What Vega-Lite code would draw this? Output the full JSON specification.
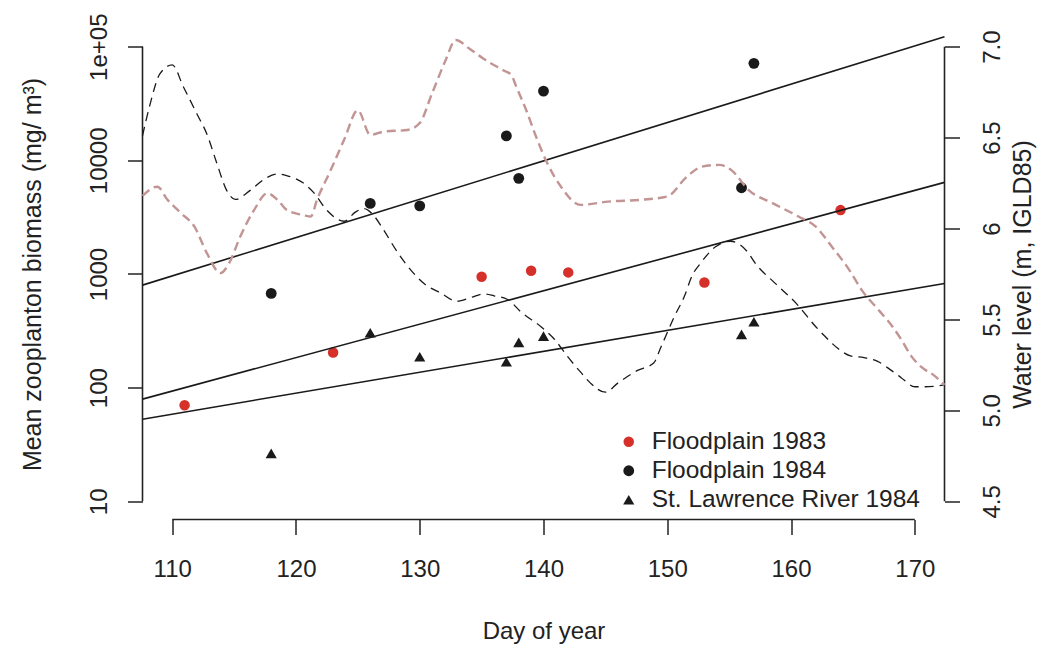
{
  "$schema": "https://vega.github.io/schema/vega-lite/v6.json",
  "width": 802,
  "height": 491,
  "autosize": {"type": "none"},
  "padding": {"left": 142.5, "top": 28.5, "right": 93.5, "bottom": 126.5},
  "background": "white",
  "config": {
    "font": "Liberation Sans",
    "view": {"stroke": null},
    "axis": {
      "grid": false,
      "domain": false,
      "labelFont": "Liberation Sans",
      "titleFont": "Liberation Sans",
      "labelColor": "#222222",
      "titleColor": "#222222",
      "tickColor": "#222222",
      "tickWidth": 1.5,
      "tickSize": 15,
      "labelFontSize": 24,
      "titleFontWeight": "normal",
      "labelFlush": false,
      "labelOverlap": false,
      "labelBound": false
    },
    "legend": {"labelFont": "Liberation Sans"}
  },
  "datasets": {
    "samples": [
      {"group": "Floodplain 1983", "day": 111, "biomass": 70},
      {"group": "Floodplain 1983", "day": 123, "biomass": 204},
      {"group": "Floodplain 1983", "day": 135, "biomass": 945},
      {"group": "Floodplain 1983", "day": 139, "biomass": 1067},
      {"group": "Floodplain 1983", "day": 142, "biomass": 1033},
      {"group": "Floodplain 1983", "day": 153, "biomass": 843},
      {"group": "Floodplain 1983", "day": 164, "biomass": 3650},
      {"group": "Floodplain 1984", "day": 118, "biomass": 675},
      {"group": "Floodplain 1984", "day": 126, "biomass": 4180},
      {"group": "Floodplain 1984", "day": 130, "biomass": 3980},
      {"group": "Floodplain 1984", "day": 137, "biomass": 16400},
      {"group": "Floodplain 1984", "day": 138, "biomass": 6940},
      {"group": "Floodplain 1984", "day": 140, "biomass": 40700},
      {"group": "Floodplain 1984", "day": 156, "biomass": 5740},
      {"group": "Floodplain 1984", "day": 157, "biomass": 71400},
      {"group": "St. Lawrence River 1984", "day": 118, "biomass": 26.4},
      {"group": "St. Lawrence River 1984", "day": 126, "biomass": 304},
      {"group": "St. Lawrence River 1984", "day": 130, "biomass": 187},
      {"group": "St. Lawrence River 1984", "day": 137, "biomass": 169},
      {"group": "St. Lawrence River 1984", "day": 138, "biomass": 250},
      {"group": "St. Lawrence River 1984", "day": 140, "biomass": 284},
      {"group": "St. Lawrence River 1984", "day": 156, "biomass": 294},
      {"group": "St. Lawrence River 1984", "day": 157, "biomass": 380}
    ],
    "fits": [
      {"group": "Floodplain 1984", "day": 107.6, "biomass": 798},
      {"group": "Floodplain 1984", "day": 172.4, "biomass": 122500},
      {"group": "Floodplain 1983", "day": 107.6, "biomass": 79.3},
      {"group": "Floodplain 1983", "day": 172.4, "biomass": 6400},
      {"group": "St. Lawrence River 1984", "day": 107.6, "biomass": 52.8},
      {"group": "St. Lawrence River 1984", "day": 172.4, "biomass": 826}
    ],
    "water": [
      {"series": "1984", "day": 107.6, "level": 6.51},
      {"series": "1984", "day": 108.2, "level": 6.68},
      {"series": "1984", "day": 109.0, "level": 6.85},
      {"series": "1984", "day": 110.0, "level": 6.9},
      {"series": "1984", "day": 110.9, "level": 6.78},
      {"series": "1984", "day": 112.0, "level": 6.63},
      {"series": "1984", "day": 112.8, "level": 6.52},
      {"series": "1984", "day": 113.6, "level": 6.36},
      {"series": "1984", "day": 114.4, "level": 6.21},
      {"series": "1984", "day": 115.1, "level": 6.16},
      {"series": "1984", "day": 116.3, "level": 6.21},
      {"series": "1984", "day": 117.4, "level": 6.27},
      {"series": "1984", "day": 118.5, "level": 6.3},
      {"series": "1984", "day": 119.3, "level": 6.29},
      {"series": "1984", "day": 120.6, "level": 6.25},
      {"series": "1984", "day": 121.4, "level": 6.2},
      {"series": "1984", "day": 122.5, "level": 6.1},
      {"series": "1984", "day": 123.9, "level": 6.04},
      {"series": "1984", "day": 124.8, "level": 6.09},
      {"series": "1984", "day": 125.5, "level": 6.11},
      {"series": "1984", "day": 126.3, "level": 6.07},
      {"series": "1984", "day": 127.1, "level": 5.99},
      {"series": "1984", "day": 128.2, "level": 5.87},
      {"series": "1984", "day": 129.3, "level": 5.77},
      {"series": "1984", "day": 130.3, "level": 5.7},
      {"series": "1984", "day": 131.7, "level": 5.645},
      {"series": "1984", "day": 133.0, "level": 5.6},
      {"series": "1984", "day": 134.1, "level": 5.62},
      {"series": "1984", "day": 135.2, "level": 5.64},
      {"series": "1984", "day": 136.0, "level": 5.63},
      {"series": "1984", "day": 137.1, "level": 5.61},
      {"series": "1984", "day": 138.2, "level": 5.54},
      {"series": "1984", "day": 139.8, "level": 5.46},
      {"series": "1984", "day": 140.9, "level": 5.39},
      {"series": "1984", "day": 141.9, "level": 5.3},
      {"series": "1984", "day": 143.0, "level": 5.21},
      {"series": "1984", "day": 143.8, "level": 5.15},
      {"series": "1984", "day": 145.0, "level": 5.1},
      {"series": "1984", "day": 146.0, "level": 5.15},
      {"series": "1984", "day": 147.6, "level": 5.22},
      {"series": "1984", "day": 148.9, "level": 5.26},
      {"series": "1984", "day": 149.5, "level": 5.35},
      {"series": "1984", "day": 150.6, "level": 5.52},
      {"series": "1984", "day": 151.4, "level": 5.63},
      {"series": "1984", "day": 152.0, "level": 5.74},
      {"series": "1984", "day": 152.7, "level": 5.81},
      {"series": "1984", "day": 153.9, "level": 5.9},
      {"series": "1984", "day": 155.1, "level": 5.93},
      {"series": "1984", "day": 156.5, "level": 5.87},
      {"series": "1984", "day": 157.1, "level": 5.81},
      {"series": "1984", "day": 158.7, "level": 5.7},
      {"series": "1984", "day": 160.4, "level": 5.59},
      {"series": "1984", "day": 162.0, "level": 5.46},
      {"series": "1984", "day": 162.7, "level": 5.41},
      {"series": "1984", "day": 163.8, "level": 5.34},
      {"series": "1984", "day": 164.8, "level": 5.3},
      {"series": "1984", "day": 165.9, "level": 5.29},
      {"series": "1984", "day": 167.0, "level": 5.27},
      {"series": "1984", "day": 168.1, "level": 5.22},
      {"series": "1984", "day": 168.9, "level": 5.18},
      {"series": "1984", "day": 170.0, "level": 5.13},
      {"series": "1984", "day": 170.8, "level": 5.13},
      {"series": "1984", "day": 172.4, "level": 5.14},
      {"series": "1983", "day": 107.6, "level": 6.18},
      {"series": "1983", "day": 108.8, "level": 6.23},
      {"series": "1983", "day": 109.6, "level": 6.16},
      {"series": "1983", "day": 110.7, "level": 6.085},
      {"series": "1983", "day": 111.8, "level": 6.01},
      {"series": "1983", "day": 112.8, "level": 5.865},
      {"series": "1983", "day": 113.9, "level": 5.755},
      {"series": "1983", "day": 114.6, "level": 5.81},
      {"series": "1983", "day": 115.5, "level": 5.956},
      {"series": "1983", "day": 116.6, "level": 6.1},
      {"series": "1983", "day": 117.7, "level": 6.194},
      {"series": "1983", "day": 118.5, "level": 6.158},
      {"series": "1983", "day": 119.3, "level": 6.1},
      {"series": "1983", "day": 120.6, "level": 6.074},
      {"series": "1983", "day": 121.2, "level": 6.066},
      {"series": "1983", "day": 121.7, "level": 6.158},
      {"series": "1983", "day": 122.8, "level": 6.32},
      {"series": "1983", "day": 123.9, "level": 6.49},
      {"series": "1983", "day": 125.0, "level": 6.65},
      {"series": "1983", "day": 126.0, "level": 6.515},
      {"series": "1983", "day": 127.1, "level": 6.533},
      {"series": "1983", "day": 129.0, "level": 6.542},
      {"series": "1983", "day": 130.0, "level": 6.58},
      {"series": "1983", "day": 131.0, "level": 6.744},
      {"series": "1983", "day": 132.1, "level": 6.927},
      {"series": "1983", "day": 132.9, "level": 7.037},
      {"series": "1983", "day": 134.0, "level": 6.99},
      {"series": "1983", "day": 135.1, "level": 6.936},
      {"series": "1983", "day": 136.7, "level": 6.872},
      {"series": "1983", "day": 137.4, "level": 6.845},
      {"series": "1983", "day": 137.8, "level": 6.78},
      {"series": "1983", "day": 138.6, "level": 6.652},
      {"series": "1983", "day": 139.4, "level": 6.505},
      {"series": "1983", "day": 140.3, "level": 6.36},
      {"series": "1983", "day": 141.4, "level": 6.231},
      {"series": "1983", "day": 143.0, "level": 6.13},
      {"series": "1983", "day": 145.2, "level": 6.148},
      {"series": "1983", "day": 147.9, "level": 6.158},
      {"series": "1983", "day": 150.0, "level": 6.176},
      {"series": "1983", "day": 151.6, "level": 6.286},
      {"series": "1983", "day": 152.8, "level": 6.34},
      {"series": "1983", "day": 154.2, "level": 6.35},
      {"series": "1983", "day": 155.2, "level": 6.32},
      {"series": "1983", "day": 156.6, "level": 6.21},
      {"series": "1983", "day": 158.5, "level": 6.14},
      {"series": "1983", "day": 160.6, "level": 6.066},
      {"series": "1983", "day": 162.0, "level": 6.01},
      {"series": "1983", "day": 163.3, "level": 5.9},
      {"series": "1983", "day": 164.7, "level": 5.773},
      {"series": "1983", "day": 165.7, "level": 5.663},
      {"series": "1983", "day": 167.1, "level": 5.55},
      {"series": "1983", "day": 168.1, "level": 5.47},
      {"series": "1983", "day": 168.9, "level": 5.39},
      {"series": "1983", "day": 169.7, "level": 5.3},
      {"series": "1983", "day": 170.5, "level": 5.24},
      {"series": "1983", "day": 171.6, "level": 5.19},
      {"series": "1983", "day": 172.4, "level": 5.14}
    ]
  },
  "layer": [
    {
      "layer": [
        {
          "data": {"name": "samples"},
          "mark": {"type": "point", "filled": true, "opacity": 1},
          "encoding": {
            "x": {
              "field": "day",
              "type": "quantitative",
              "scale": {"domain": [107.6, 172.4], "nice": false, "zero": false},
              "axis": {
                "values": [110, 120, 130, 140, 150, 160, 170],
                "labelBaseline": "alphabetic",
                "labelPadding": 41.5,
                "title": "Day of year",
                "titleFontSize": 24,
                "titleBaseline": "alphabetic",
                "titleY": 119
              }
            },
            "y": {
              "field": "biomass",
              "type": "quantitative",
              "scale": {"type": "log", "domain": [6.9183, 144543.98], "nice": false},
              "axis": {
                "orient": "left",
                "values": [10, 100, 1000, 10000, 100000],
                "labelExpr": "datum.value >= 100000 ? '1e+05' : format(datum.value, 'd')",
                "labelAngle": -90,
                "labelAlign": "center",
                "labelBaseline": "alphabetic",
                "labelPadding": 21.5,
                "title": "Mean zooplanton biomass (mg/ m³)",
                "titleFontSize": 25,
                "titleAngle": -90,
                "titleAlign": "center",
                "titleBaseline": "alphabetic",
                "titleX": -102.5,
                "titleY": 245.5
              }
            },
            "color": {
              "field": "group",
              "type": "nominal",
              "scale": {"domain": ["Floodplain 1983", "Floodplain 1984", "St. Lawrence River 1984"], "range": ["#d6302a", "#1a1a1a", "#1a1a1a"]},
              "legend": {
                "orient": "none",
                "legendX": 474,
                "legendY": 401,
                "title": null,
                "padding": 0,
                "labelFontSize": 24.5,
                "labelColor": "#222222",
                "labelOffset": 10.7,
                "labelLimit": 0,
                "symbolSize": 90,
                "symbolStrokeWidth": 0,
                "rowPadding": 4
              }
            },
            "shape": {
              "field": "group",
              "type": "nominal",
              "scale": {"domain": ["Floodplain 1983", "Floodplain 1984", "St. Lawrence River 1984"], "range": ["circle", "circle", "triangle-up"]},
              "legend": {
                "orient": "none",
                "legendX": 474,
                "legendY": 401,
                "title": null,
                "padding": 0,
                "labelFontSize": 24.5,
                "labelColor": "#222222",
                "labelOffset": 10.7,
                "labelLimit": 0,
                "symbolSize": 90,
                "symbolStrokeWidth": 0,
                "rowPadding": 4
              }
            },
            "size": {
              "field": "group",
              "type": "nominal",
              "scale": {"domain": ["Floodplain 1983", "Floodplain 1984", "St. Lawrence River 1984"], "range": [110, 125, 165]},
              "legend": null
            }
          }
        },
        {
          "data": {"values": [{}]},
          "mark": {"type": "rule", "color": "#222222", "strokeWidth": 1.6},
          "encoding": {
            "x": {"datum": 107.6, "type": "quantitative", "scale": {"domain": [107.6, 172.4], "nice": false, "zero": false}},
            "y": {"datum": 10, "type": "quantitative", "scale": {"type": "log", "domain": [6.9183, 144543.98], "nice": false}},
            "y2": {"datum": 100000}
          }
        },
        {
          "data": {"values": [{}]},
          "mark": {"type": "rule", "color": "#222222", "strokeWidth": 1.6},
          "encoding": {
            "x": {"datum": 172.4, "type": "quantitative", "scale": {"domain": [107.6, 172.4], "nice": false, "zero": false}},
            "y": {"datum": 10, "type": "quantitative", "scale": {"type": "log", "domain": [6.9183, 144543.98], "nice": false}},
            "y2": {"datum": 100000}
          }
        },
        {
          "data": {"values": [{}]},
          "mark": {"type": "rule", "color": "#222222", "strokeWidth": 1.6},
          "encoding": {
            "x": {"datum": 110, "type": "quantitative", "scale": {"domain": [107.6, 172.4], "nice": false, "zero": false}},
            "x2": {"datum": 170},
            "y": {"datum": 6.9183, "type": "quantitative", "scale": {"type": "log", "domain": [6.9183, 144543.98], "nice": false}}
          }
        },
        {
          "data": {"name": "fits"},
          "mark": {"type": "line", "color": "#1a1a1a", "strokeWidth": 1.6},
          "encoding": {
            "x": {"field": "day", "type": "quantitative", "scale": {"domain": [107.6, 172.4], "nice": false, "zero": false}},
            "y": {"field": "biomass", "type": "quantitative", "scale": {"type": "log", "domain": [6.9183, 144543.98], "nice": false}},
            "detail": {"field": "group"}
          }
        }
      ]
    },
    {
      "layer": [
        {
          "data": {"name": "water"},
          "transform": [{"filter": "datum.series === '1984'"}],
          "mark": {"type": "line", "color": "#1a1a1a", "strokeWidth": 1.3, "strokeDash": [9, 6], "interpolate": "monotone"},
          "encoding": {
            "x": {"field": "day", "type": "quantitative", "scale": {"domain": [107.6, 172.4], "nice": false, "zero": false}},
            "y": {
              "field": "level",
              "type": "quantitative",
              "scale": {"domain": [4.4, 7.1], "nice": false, "zero": false},
              "axis": {
                "orient": "right",
                "values": [4.5, 5, 5.5, 6, 6.5, 7],
                "labelExpr": "datum.value === 6 ? '6' : format(datum.value, '.1f')",
                "labelAngle": -90,
                "labelAlign": "center",
                "labelBaseline": "alphabetic",
                "labelPadding": 39.5,
                "title": "Water level (m, IGLD85)",
                "titleFontSize": 25,
                "titleAngle": -90,
                "titleAlign": "center",
                "titleBaseline": "alphabetic",
                "titleX": 85.5,
                "titleY": 245.5
              }
            }
          }
        },
        {
          "data": {"name": "water"},
          "transform": [{"filter": "datum.series === '1983'"}],
          "mark": {"type": "line", "color": "#c29494", "strokeWidth": 2.4, "strokeDash": [9, 5], "interpolate": "monotone"},
          "encoding": {
            "x": {"field": "day", "type": "quantitative", "scale": {"domain": [107.6, 172.4], "nice": false, "zero": false}},
            "y": {"field": "level", "type": "quantitative", "scale": {"domain": [4.4, 7.1], "nice": false, "zero": false}}
          }
        }
      ]
    }
  ],
  "resolve": {"scale": {"y": "independent"}}
}
